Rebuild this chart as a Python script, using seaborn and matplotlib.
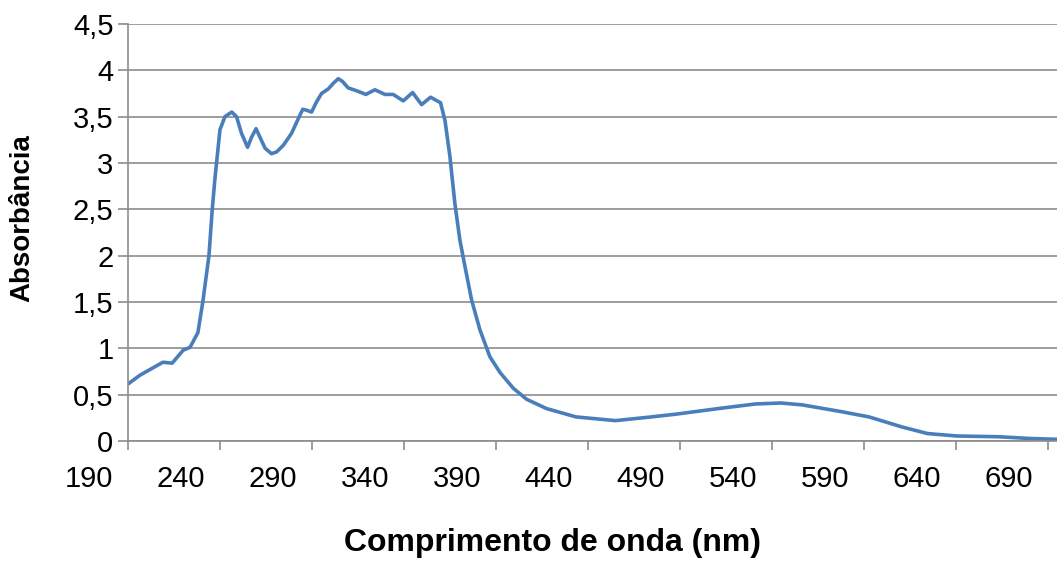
import matplotlib
matplotlib.use("Agg")
import matplotlib.pyplot as plt
import matplotlib.transforms as mtransforms
import seaborn as sns
import pandas as pd

# ---- data ----
wavelength = [190, 196.5, 203.6, 209, 214, 220, 223.7, 228, 230.8, 234, 235.8,
              237.3, 240, 242.7, 246.4, 249, 251.7, 255, 257.2, 259.6, 261.7,
              264.5, 268, 270.8, 274.4, 278.9, 282.6, 285, 287, 289.8, 292.5,
              295.2, 298.9, 301.6, 304.3, 306.6, 309.7, 314.2, 319.3, 324.2,
              329.7, 334.2, 339.6, 344.7, 349.6, 354.5, 359.9, 362.3, 365,
              367.7, 370.4, 373.2, 376.8, 381.3, 386.7, 392.2, 399.4, 406.7,
              417.5, 433.5, 455, 474.5, 488, 510.9, 531.3, 545, 556.4, 576.9,
              592.8, 611, 624.7, 640.7, 663.4, 679.3, 694.9]
absorbance = [0.615, 0.71, 0.79, 0.85, 0.84, 0.98, 1.01, 1.17, 1.52, 2.0, 2.5,
              2.84, 3.36, 3.5, 3.55, 3.5, 3.32, 3.17, 3.28, 3.37, 3.28,
              3.16, 3.10, 3.12, 3.19, 3.32, 3.48, 3.58, 3.57, 3.55, 3.66,
              3.75, 3.80, 3.86, 3.91, 3.88, 3.81, 3.78, 3.74, 3.79,
              3.74, 3.74, 3.67, 3.76, 3.63, 3.71, 3.65, 3.46, 3.07,
              2.56, 2.17, 1.88, 1.52, 1.20, 0.91, 0.74, 0.57, 0.45,
              0.35, 0.26, 0.22, 0.26, 0.29, 0.35, 0.40, 0.41, 0.39, 0.32,
              0.26, 0.15, 0.08, 0.054, 0.046, 0.028, 0.018]
x_ticks = [190, 240, 290, 340, 390, 440, 490, 540, 590, 640, 690]
y_ticks = [0, 0.5, 1, 1.5, 2, 2.5, 3, 3.5, 4, 4.5]
y_tick_labels = ["0", "0,5", "1", "1,5", "2", "2,5", "3", "3,5", "4", "4,5"]

df = pd.DataFrame({"Comprimento de onda (nm)": wavelength, "Absorbância": absorbance})

sns.set_theme(style="white")
plt.rcParams["font.family"] = ["Liberation Sans", "DejaVu Sans"]

fig = plt.figure(figsize=(10.57, 5.61), dpi=100)
ax = fig.add_axes([128 / 1057, 1 - 441 / 561, 1 - 128 / 1057, (441 - 24) / 561])

sns.lineplot(data=df, x="Comprimento de onda (nm)", y="Absorbância", ax=ax,
             color="#4A7EBB", linewidth=2.6, sort=False, estimator=None)

ax.set_xlim(190, 695)
ax.set_ylim(0, 4.5)

grid_color = "#8C8C8C"
ax.set_yticks(y_ticks)
ax.set_yticklabels(y_tick_labels)
ax.set_xticks(x_ticks)
ax.set_xticklabels([str(v) for v in x_ticks])
ax.yaxis.grid(True, color=grid_color, linewidth=1.2)
ax.xaxis.grid(False)
ax.set_axisbelow(True)

for side in ["top", "right"]:
    ax.spines[side].set_visible(False)
for side in ["left", "bottom"]:
    ax.spines[side].set_color(grid_color)
    ax.spines[side].set_linewidth(1.2)

ax.tick_params(axis="y", which="major", left=True, length=7, width=1.2,
               color=grid_color, labelsize=21, pad=3.5, labelcolor="black")
ax.tick_params(axis="x", which="major", bottom=True, length=6.5, width=1.2,
               color=grid_color, labelsize=21, pad=11, labelcolor="black")

# Excel-style category labels sit to the left of their tick marks
offset = mtransforms.ScaledTranslation(-39 / 100, 0, fig.dpi_scale_trans)
for lbl in ax.get_xticklabels():
    lbl.set_transform(lbl.get_transform() + offset)

ax.set_xlabel("Comprimento de onda (nm)", fontsize=23, fontweight="bold",
              color="black")
ax.set_ylabel("Absorbância", fontsize=20, fontweight="bold", color="black")
ax.yaxis.set_label_coords(-93 / 929, 0.534)
ax.xaxis.set_label_coords((553 - 128) / 929, -87 / 417)

fig.savefig("out.png", dpi=100)
